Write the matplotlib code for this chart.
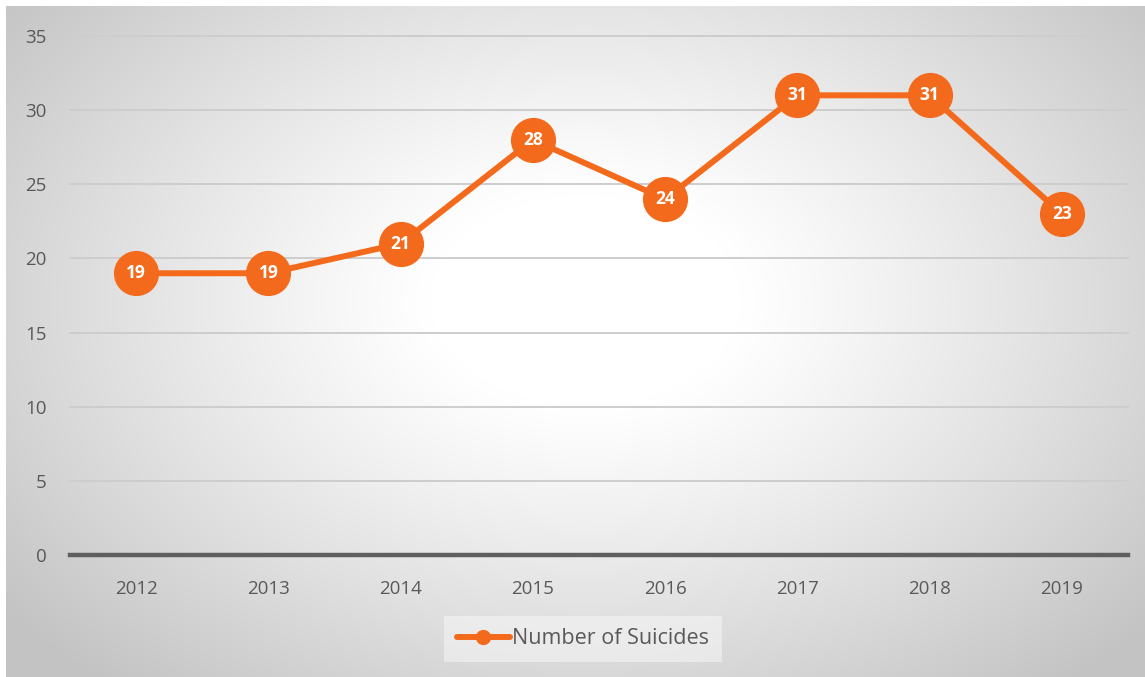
import numpy as np
import matplotlib
matplotlib.use("Agg")
import matplotlib.pyplot as plt
from matplotlib.lines import Line2D

years = ["2012", "2013", "2014", "2015", "2016", "2017", "2018", "2019"]
suicides = [19, 19, 21, 28, 24, 31, 31, 23]
y_ticks = [0, 5, 10, 15, 20, 25, 30, 35]
series_name = "Number of Suicides"

W, H = 1145, 677
fig = plt.figure(figsize=(W / 100, H / 100), dpi=100)
plt.rcParams["font.family"] = ["Open Sans", "DejaVu Sans"]

# Radial grey-to-white background
bg = fig.add_axes([0, 0, 1, 1])
yy, xx = np.mgrid[0:H, 0:W]
cx, cy = 585, 300
r = np.sqrt(((xx - cx) / 620.0) ** 2 + ((yy - cy) / 420.0) ** 2)
t = np.clip((r - 0.25) / 0.95, 0, 1)
val = 1.0 - (1.0 - 0.765) * t ** 1.1
img = np.dstack([val, val, val])
img[:6, :, :] = 1.0
img[:, :6, :] = 1.0
bg.imshow(img, extent=(0, W, H, 0), aspect="auto", interpolation="bilinear")
bg.set_axis_off()

ax = fig.add_axes([70 / W, (H - 555) / H, (1128 - 70) / W, (555 - 36) / H])
ax.patch.set_alpha(0)
x = np.arange(len(years))
color = "#F46A1C"
ax.plot(x, suicides, color=color, lw=4.3, marker="o", ms=31.5,
        markerfacecolor=color, markeredgecolor=color, zorder=3, solid_capstyle="round")
for xi, v in zip(x, suicides):
    ax.text(xi, v, str(v), ha="center", va="center", color="white",
            fontsize=12.5, fontweight="bold", zorder=4)

ax.set_xlim(-0.5, len(years) - 0.5)
ax.set_ylim(0, 35)
ax.set_yticks(y_ticks)
ax.set_xticks(x)
ax.set_xticklabels(years)
for yt in y_ticks[1:]:
    ax.axhline(yt, color="#cdcdcd", lw=1.4, zorder=1, clip_on=False)
ax.axhline(0, color="#5f5f5f", lw=3.2, zorder=2, clip_on=False)
for s in ax.spines.values():
    s.set_visible(False)
ax.tick_params(length=0, colors="#595959", labelsize=13.5)
ax.tick_params(axis="x", pad=18)
ax.tick_params(axis="y", pad=17)

handle = Line2D([], [], color=color, lw=4.3, marker="o", ms=10, solid_capstyle="round")
leg = fig.legend([handle], [series_name], loc="center", bbox_to_anchor=(583 / W, (H - 639) / H),
                 frameon=True, fontsize=15.5, handlelength=2.5, handletextpad=0.1,
                 borderpad=0.6, borderaxespad=0, fancybox=False)
leg.get_frame().set_facecolor("#f7f7f7")
leg.get_frame().set_alpha(0.55)
leg.get_frame().set_edgecolor("none")
for txt in leg.get_texts():
    txt.set_color("#595959")

fig.savefig("out.png", dpi=100)
